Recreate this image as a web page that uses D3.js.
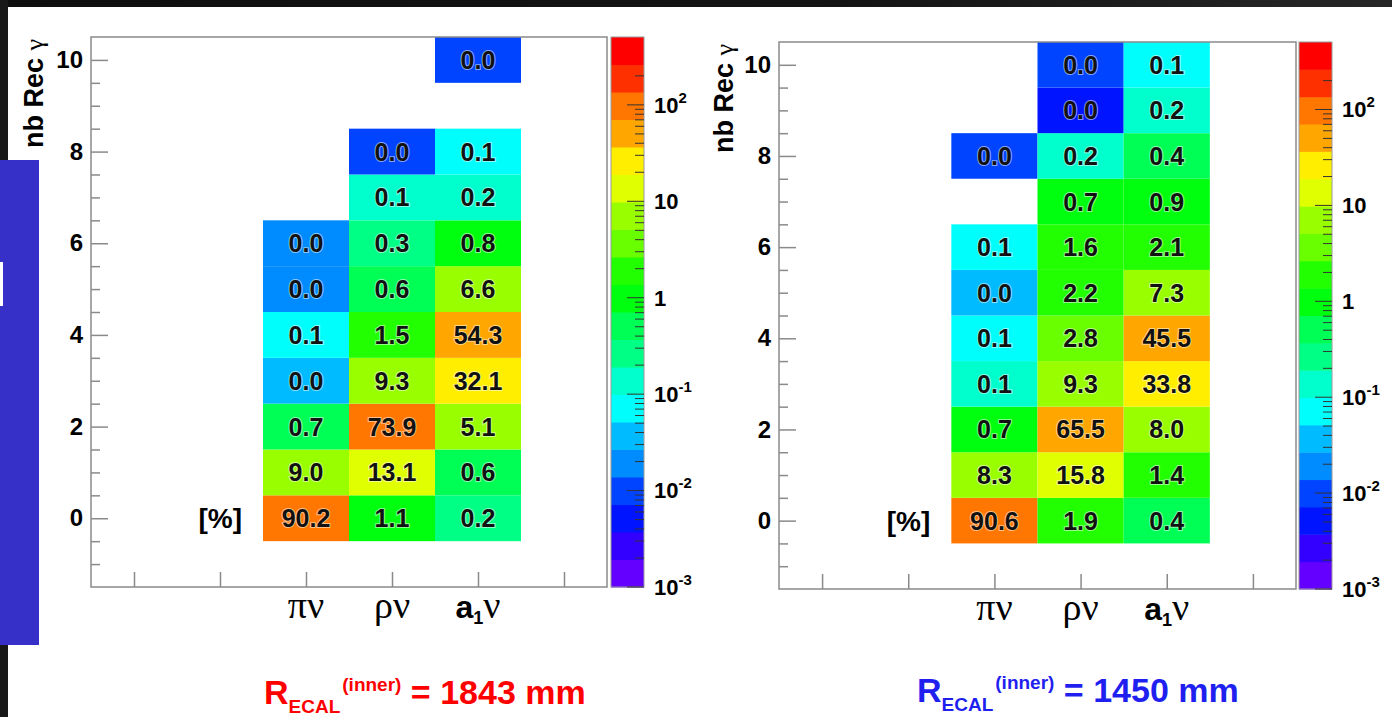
<!DOCTYPE html>
<html>
<head>
<meta charset="utf-8">
<script src="https://cdn.jsdelivr.net/npm/d3@7"></script>
<style>
  html, body { margin: 0; padding: 0; background: #fff; }
  svg { display: block; }
</style>
</head>
<body>
<svg id="fig" width="1392" height="717"></svg>
<script>
// ---- data -------------------------------------------------------------
// tau decay channels, placed in histogram bins 2, 3, 4
const channels = ["pi", "rho", "a1"];
const channelBins = [2, 3, 4];
const xBins = [0, 1, 2, 3, 4, 5];
// y axis: number of reconstructed photons
const nbRecTicks = [0, 2, 4, 6, 8, 10];
const nbRecLabels = ["0", "2", "4", "6", "8", "10"];
// colour axis (log) decades
const zTicks = [1e-3, 1e-2, 1e-1, 1, 10, 100];

// Fractions [%] per channel, index = nb Rec gamma (0..10), null = empty bin
// R_ECAL(inner) = 1843 mm
const pi1843  = [90.2, 9.0, 0.68, 0.04, 0.07, 0.02, 0.02, null, null, null, null];
const rho1843 = [1.1, 13.1, 73.9, 9.3, 1.5, 0.6, 0.3, 0.12, 0.01, null, null];
const a11843  = [0.22, 0.6, 5.12, 32.1, 54.3, 6.6, 0.8, 0.18, 0.08, null, 0.01];
// R_ECAL(inner) = 1450 mm
const pi1450  = [90.6, 8.3, 0.72, 0.11, 0.08, 0.04, 0.07, null, 0.01, null, null];
const rho1450 = [1.9, 15.8, 65.5, 9.3, 2.8, 2.2, 1.6, 0.72, 0.17, 0.005, 0.01];
const a11450  = [0.4, 1.4, 8.0, 33.8, 45.5, 7.3, 2.1, 0.9, 0.4, 0.17, 0.07];

const radii = ["1843", "1450"];

// ---- palette: ROOT "pretty" palette (HLS, 50 colours) in 20 contours ----
const nContours = 20;
const pretty = d3.range(50).map(i => d3.hsl(280 - (i + 1) * 5.6, 1, 0.5).formatHex());
const palette = d3.range(nContours).map(k => pretty[Math.floor((k + 0.99) * 50 / nContours)]);
const zMin = 1e-3, logZMax = 2.704, zMax = Math.pow(10, logZMax);
const colorOf = d3.scaleQuantize().domain([Math.log10(zMin), logZMax]).range(palette);

const svg = d3.select("#fig");
const SANS = "'Liberation Sans', Arial, Helvetica, sans-serif";
const SERIF = "'Liberation Serif', 'Times New Roman', serif";
const AXIS = "#8a8a8a";

// ---- page decoration -------------------------------------------------
const grad = svg.append("defs").append("linearGradient").attr("id", "topband");
grad.append("stop").attr("offset", "0%").attr("stop-color", "#0e0e0e");
grad.append("stop").attr("offset", "60%").attr("stop-color", "#141414");
grad.append("stop").attr("offset", "100%").attr("stop-color", "#262626");
svg.append("rect").attr("x", 0).attr("y", 0).attr("width", 1392).attr("height", 7).attr("fill", "url(#topband)");
svg.append("rect").attr("x", 0).attr("y", 0).attr("width", 8).attr("height", 717).attr("fill", "#181818");
svg.append("rect").attr("x", 0).attr("y", 160).attr("width", 39).attr("height", 485).attr("fill", "#3630c9");
svg.append("rect").attr("x", 0).attr("y", 262).attr("width", 3).attr("height", 44).attr("fill", "#ffffff");

// ---- one panel ---------------------------------------------------------
function drawPanel(p) {
  const g = svg.append("g");
  const x = d3.scaleLinear().domain([-0.5, 5.5]).range([p.x0, p.x1]);
  const y = d3.scaleLinear().domain([-1.5, 10.5]).range([p.y1, p.y0]);

  // cells
  const cells = [];
  p.values.forEach((col, c) => col.forEach((v, r) => {
    if (v !== null) cells.push({ bin: channelBins[c], row: r, v });
  }));
  g.selectAll("rect.cell").data(cells).join("rect")
    .attr("class", "cell")
    .attr("x", d => x(d.bin - 0.5))
    .attr("y", d => y(d.row + 0.5))
    .attr("width", d => x(d.bin + 0.5) - x(d.bin - 0.5))
    .attr("height", d => y(d.row - 0.5) - y(d.row + 0.5))
    .attr("fill", d => colorOf(Math.log10(d.v)));
  g.selectAll("text.cellv").data(cells).join("text")
    .attr("class", "cellv")
    .attr("x", d => x(d.bin))
    .attr("y", d => y(d.row))
    .attr("dy", "0.36em")
    .attr("text-anchor", "middle")
    .attr("font-family", SANS).attr("font-weight", "bold").attr("font-size", 25)
    .attr("fill", "#111")
    .attr("stroke", "rgba(255,255,255,0.55)").attr("stroke-width", 2)
    .attr("paint-order", "stroke")
    .text(d => d3.format(".1f")(d.v));

  // frame
  g.append("rect").attr("x", p.x0).attr("y", p.y0)
    .attr("width", p.x1 - p.x0).attr("height", p.y1 - p.y0)
    .attr("fill", "none").attr("stroke", AXIS).attr("stroke-width", 1.5);

  // y axis: major + minor ticks pointing inward
  const yMajor = d3.axisLeft(y).tickValues(nbRecTicks).tickSize(-17).tickPadding(8)
    .tickFormat((d, i) => nbRecLabels[i]);
  const ya = g.append("g").attr("transform", `translate(${p.x0},0)`).call(yMajor);
  ya.select(".domain").remove();
  ya.selectAll("line").attr("stroke", AXIS).attr("stroke-width", 1.5);
  ya.selectAll("text").attr("font-family", SANS).attr("font-weight", "bold")
    .attr("font-size", 24).attr("fill", "#000");
  const yMinor = d3.axisLeft(y).tickValues(d3.range(-1, 10.5, 0.5).filter(v => v % 2 !== 0))
    .tickSize(-9).tickFormat("");
  const ym = g.append("g").attr("transform", `translate(${p.x0},0)`).call(yMinor);
  ym.select(".domain").remove();
  ym.selectAll("line").attr("stroke", AXIS).attr("stroke-width", 1.5);

  // x axis ticks at bin centres
  const xa = g.append("g").attr("transform", `translate(0,${p.y1})`)
    .call(d3.axisBottom(x).tickValues(xBins).tickSize(-15).tickFormat(""));
  xa.select(".domain").remove();
  xa.selectAll("line").attr("stroke", AXIS).attr("stroke-width", 1.5);

  // channel labels
  const lblY = p.y1 + 31;
  channels.forEach((ch, i) => {
    const t = g.append("text").attr("x", x(channelBins[i])).attr("y", lblY)
      .attr("text-anchor", "middle").attr("fill", "#000");
    if (ch === "pi") {
      t.attr("font-family", SERIF).attr("font-size", 38).text("\u03C0\u03BD");
    } else if (ch === "rho") {
      t.attr("font-family", SERIF).attr("font-size", 38).text("\u03C1\u03BD");
    } else {
      t.append("tspan").attr("font-family", SANS).attr("font-weight", "bold").attr("font-size", 32).text("a");
      t.append("tspan").attr("font-family", SANS).attr("font-weight", "bold").attr("font-size", 18).attr("dy", 6).text("1");
      t.append("tspan").attr("font-family", SERIF).attr("font-size", 38).attr("dy", -6).text("\u03BD");
    }
  });

  // [%] marker next to the first row
  g.append("text").attr("x", x(channelBins[0] - 0.5) - 21).attr("y", y(0)).attr("dy", "0.36em")
    .attr("text-anchor", "end").attr("font-family", SANS).attr("font-weight", "bold")
    .attr("font-size", 28).attr("fill", "#000").text("[%]");

  // y axis title
  const yt = g.append("text")
    .attr("transform", `translate(${p.titleX},${p.y0 + 2}) rotate(-90)`)
    .attr("text-anchor", "end").attr("fill", "#000");
  yt.append("tspan").attr("font-family", SANS).attr("font-weight", "bold").attr("font-size", 27).text("nb Rec ");
  yt.append("tspan").attr("font-family", SERIF).attr("font-size", 26).text("\u03B3");

  // colour bar
  const z = d3.scaleLog().domain([zMin, zMax]).range([p.y1, p.y0]);
  const cbW = 33;
  const lo = Math.log10(zMin), step = (logZMax - lo) / nContours;
  const bands = palette.map((c, k) => ({ c, a: Math.pow(10, lo + k * step), b: Math.pow(10, lo + (k + 1) * step) }));
  g.selectAll("rect.band").data(bands).join("rect")
    .attr("class", "band")
    .attr("x", p.cbX).attr("width", cbW)
    .attr("y", d => z(d.b)).attr("height", d => z(d.a) - z(d.b) + 0.5)
    .attr("fill", d => d.c);
  g.append("rect").attr("x", p.cbX).attr("y", p.y0).attr("width", cbW).attr("height", p.y1 - p.y0)
    .attr("fill", "none").attr("stroke", "#9a9a9a").attr("stroke-width", 1);

  const cbRight = p.cbX + cbW;
  const minorZ = z.ticks().filter(v => {
    const e = Math.log10(v);
    return Math.abs(e - Math.round(e)) > 1e-6 && v <= 200;
  });
  g.selectAll("line.zmin").data(minorZ).join("line")
    .attr("x1", cbRight - 9).attr("x2", cbRight)
    .attr("y1", d => z(d)).attr("y2", d => z(d))
    .attr("stroke", "#333").attr("stroke-width", 1);
  g.selectAll("line.zmaj").data(zTicks).join("line")
    .attr("x1", cbRight - 17).attr("x2", cbRight)
    .attr("y1", d => z(d)).attr("y2", d => z(d))
    .attr("stroke", "#333").attr("stroke-width", 1);

  zTicks.forEach(v => {
    const e = Math.round(Math.log10(v));
    const t = g.append("text").attr("x", cbRight + 10).attr("y", z(v)).attr("dy", "0.36em")
      .attr("font-family", SANS).attr("font-weight", "bold").attr("font-size", 22).attr("fill", "#000");
    if (e === 0) t.text("1");
    else if (e === 1) t.text("10");
    else {
      t.append("tspan").text("10");
      t.append("tspan").attr("font-size", 15).attr("dy", -10).text(String(e));
    }
  });

  // radius caption
  const cap = svg.append("text").attr("x", p.capX).attr("y", p.capY)
    .attr("font-family", SANS).attr("font-weight", "bold").attr("fill", p.capColor);
  cap.append("tspan").attr("font-size", 34).text("R");
  cap.append("tspan").attr("font-size", 19).attr("dy", 9).text("ECAL");
  cap.append("tspan").attr("font-size", 19).attr("dx", 2).attr("dy", -22).text("(inner)");
  cap.append("tspan").attr("font-size", 34).attr("dy", 13).text(` = ${p.radius} mm`);
}

drawPanel({ x0: 91, x1: 607, y0: 37, y1: 587, cbX: 611, titleX: 43,
  values: [pi1843, rho1843, a11843], radius: radii[0],
  capX: 264, capY: 704, capColor: "#ff0000" });
drawPanel({ x0: 779, x1: 1296, y0: 42, y1: 589, cbX: 1299, titleX: 733,
  values: [pi1450, rho1450, a11450], radius: radii[1],
  capX: 917, capY: 702, capColor: "#1f1ff0" });
</script>
</body>
</html>
